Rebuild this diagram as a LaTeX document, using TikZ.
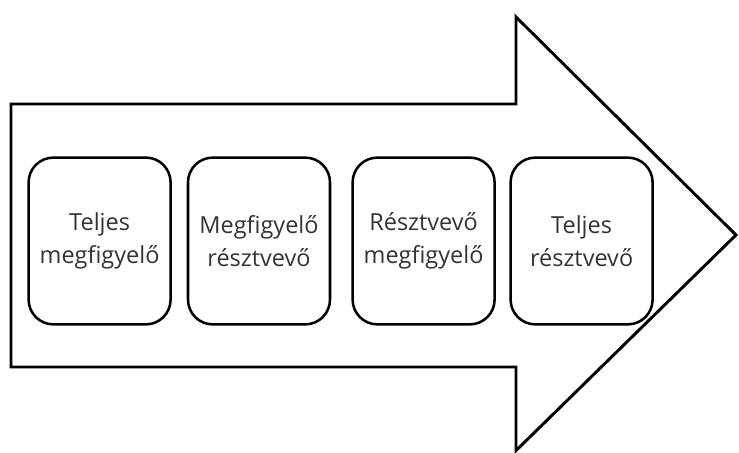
\documentclass[tikz,border=0pt]{standalone}
\usepackage{fontspec}
\setmainfont{Open Sans}
\usepackage{tikz}
\tikzset{stage/.style={rectangle,rounded corners=0.62cm,draw,line width=1.8pt,minimum width=3.55cm,minimum height=4.17cm,align=center,font=\fontsize{16.7}{23.4}\selectfont,text=black!80}}
\tikzset{bigarrow/.style={draw,line width=2.1pt,line join=miter}}

\begin{document}
\begin{tikzpicture}
    \useasboundingbox (0,0) rectangle (18.475,11.325);
    \draw[bigarrow] (0.275,8.725) -- (12.9,8.725) -- (12.9,10.9) -- (18.4,5.45)
      -- (12.9,0.06) -- (12.9,2.15) -- (0.275,2.15) -- cycle;
    \node[stage] (teljmeg) at (2.49,5.3) {Teljes\\megfigyelő};
    \node[stage] (megres) at (6.475,5.3) {Megfigyelő\\résztvevő};
    \node[stage] (resmeg) at (10.59,5.3) {Résztvevő\\megfigyelő};
    \node[stage] (teljres) at (14.54,5.3) {Teljes\\résztvevő};
  \end{tikzpicture}
\end{document}
